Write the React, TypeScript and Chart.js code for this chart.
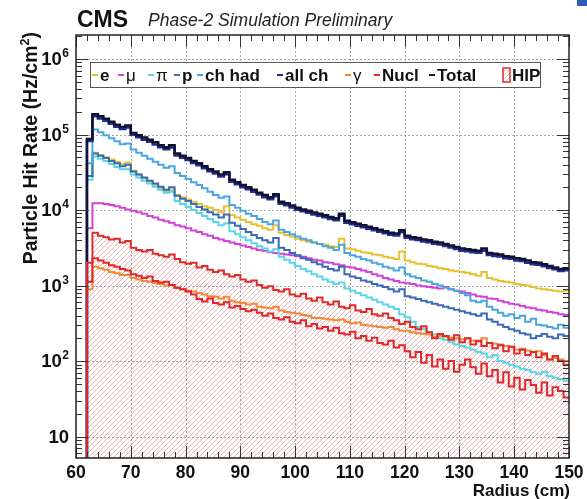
import React, { useEffect, useRef } from "react";
import { Chart, registerables } from "chart.js";

Chart.register(...registerables);

// Bin edges (cm): 1 cm bins from 62 to 150
const binEdges = [
  62, 63, 64, 65, 66, 67, 68, 69, 70, 71, 72, 73, 74, 75, 76, 77, 78, 79, 80, 81,
  82, 83, 84, 85, 86, 87, 88, 89, 90, 91, 92, 93, 94, 95, 96, 97, 98, 99, 100, 101,
  102, 103, 104, 105, 106, 107, 108, 109, 110, 111, 112, 113, 114, 115, 116, 117, 118, 119, 120, 121,
  122, 123, 124, 125, 126, 127, 128, 129, 130, 131, 132, 133, 134, 135, 136, 137, 138, 139, 140, 141,
  142, 143, 144, 145, 146, 147, 148, 149, 150,
];

// Rates (Hz/cm^2) per bin
const totalRate = [
  87000, 186000, 174000, 162000, 148000, 135000, 126000, 132000, 105000, 98000,
  91000, 85000, 79000, 72000, 68000, 72000, 56000, 52500, 49000, 44700,
  41700, 38000, 34700, 32400, 29500, 31600, 25100, 23400, 21400, 20000,
  18600, 17000, 15800, 14800, 16200, 12900, 12300, 11500, 10700, 10200,
  9800, 9300, 8900, 8500, 8100, 7800, 8900, 7200, 6900, 6600,
  6300, 6000, 5750, 5500, 5250, 5000, 4900, 5400, 4570, 4370,
  4270, 4070, 3980, 3800, 3720, 3550, 3390, 3240, 3090, 3020,
  2950, 2880, 3090, 2690, 2630, 2570, 2450, 2400, 2290, 2240,
  2140, 2040, 2000, 1910, 1820, 1740, 1660, 1700,
];
const allChRate = [
  82000, 175000, 163000, 152000, 139000, 127000, 118000, 124000, 99000, 92000,
  85500, 80000, 74000, 68000, 64000, 67500, 52600, 49300, 46000, 42000,
  39200, 35700, 32600, 30400, 27700, 29700, 23600, 22000, 20100, 18800,
  17500, 16000, 14800, 13900, 15200, 12100, 11600, 10800, 10100, 9600,
  9200, 8700, 8400, 8000, 7600, 7300, 8400, 6800, 6500, 6200,
  5900, 5650, 5400, 5170, 4930, 4700, 4600, 5080, 4300, 4100,
  4010, 3830, 3740, 3570, 3500, 3340, 3190, 3050, 2900, 2840,
  2770, 2710, 2900, 2530, 2470, 2420, 2300, 2260, 2150, 2110,
  2010, 1920, 1880, 1800, 1710, 1640, 1560, 1600,
];
const chHadRate = [
  41700, 117000, 107000, 97700, 89100, 81300, 74100, 75900, 63100, 57500,
  52500, 47900, 43700, 39800, 36300, 38000, 30900, 28200, 25700, 23400,
  21400, 19500, 17400, 15800, 14500, 15100, 11700, 10700, 9770, 8910,
  8320, 7590, 6920, 6460, 7240, 5500, 5130, 4790, 4470, 4170,
  3980, 3720, 3550, 3310, 3160, 2950, 3470, 2690, 2510, 2400,
  2240, 2140, 2000, 1910, 1780, 1700, 1580, 1740, 1410, 1320,
  1260, 1170, 1120, 1050, 1000, 933, 891, 851, 794, 741,
  631, 603, 631, 525, 479, 437, 398, 417, 372, 398,
  331, 363, 302, 295, 282, 269, 302, 275,
];
const electronRate = [
  28200, 57500, 53700, 50100, 46800, 43700, 40700, 42700, 33100, 29500,
  26300, 24000, 21400, 19500, 17800, 18600, 15800, 14800, 13800, 12900,
  12000, 11200, 10700, 10000, 9330, 11200, 8510, 7940, 7410, 6920,
  6460, 6170, 5750, 5500, 6310, 5010, 4680, 4470, 4170, 3980,
  3800, 3720, 3550, 3470, 3310, 3240, 4170, 3090, 3020, 2880,
  2750, 2690, 2570, 2510, 2400, 2340, 2240, 2820, 2140, 2040,
  1950, 1910, 1820, 1780, 1700, 1660, 1580, 1550, 1510, 1480,
  1410, 1350, 1510, 1260, 1200, 1150, 1120, 1100, 1050, 1020,
  1000, 955, 912, 891, 871, 851, 832, 851,
];
const muonRate = [
  5750, 12300, 12300, 12000, 11700, 11200, 10700, 10200, 9770, 9330,
  8910, 8320, 7940, 7410, 7080, 6760, 6310, 6030, 5750, 5370,
  5130, 4790, 4570, 4270, 4070, 3890, 3720, 3550, 3390, 3240,
  3090, 2950, 2880, 2750, 2690, 2630, 2570, 2510, 2450, 2400,
  2290, 2190, 2140, 2040, 2000, 1910, 1860, 1780, 1740, 1660,
  1580, 1510, 1410, 1350, 1260, 1200, 1150, 1100, 1070, 1050,
  1000, 977, 955, 933, 912, 955, 891, 851, 832, 794,
  759, 724, 708, 676, 661, 631, 603, 575, 562, 537,
  513, 501, 479, 468, 447, 437, 417, 407,
];
const protonRate = [
  28200, 56200, 52500, 49000, 44700, 41700, 38000, 39800, 32400, 29500,
  26900, 24500, 22400, 20400, 18600, 20000, 15500, 14100, 13200, 12000,
  11000, 10200, 9330, 8710, 7940, 8710, 6760, 6170, 5620, 5130,
  4680, 4270, 3980, 3720, 4270, 3160, 2950, 2690, 2510, 2290,
  2190, 2040, 1910, 1780, 1660, 1580, 1780, 1410, 1320, 1260,
  1170, 1120, 1050, 1000, 955, 891, 832, 891, 724, 692,
  661, 631, 603, 575, 550, 525, 501, 479, 457, 437,
  417, 398, 427, 355, 331, 302, 282, 263, 251, 234,
  224, 200, 214, 229, 209, 200, 224, 214,
];
const pionRate = [
  25100, 51300, 47900, 44700, 40700, 37200, 34700, 34700, 29500, 26900,
  24500, 22400, 20400, 18600, 17000, 17400, 13200, 12000, 11000, 10000,
  9120, 8320, 7590, 6920, 6310, 6610, 5250, 4790, 4370, 3980,
  3630, 3310, 3090, 2820, 3020, 2400, 2190, 2000, 1820, 1660,
  1550, 1410, 1320, 1200, 1120, 1050, 1100, 912, 851, 794,
  741, 692, 646, 603, 562, 525, 490, 417, 380, 331,
  282, 263, 240, 224, 200, 191, 178, 166, 158, 151,
  141, 132, 126, 112, 120, 100, 95, 89, 85, 79,
  76, 71, 68, 72, 63, 60, 58, 55,
];
const photonRate = [
  891, 1780, 1700, 1620, 1510, 1450, 1380, 1380, 1260, 1200,
  1150, 1120, 1070, 1050, 1000, 1020, 933, 891, 851, 832,
  794, 759, 724, 708, 676, 708, 631, 603, 589, 562,
  575, 525, 513, 501, 525, 468, 447, 437, 427, 407,
  398, 372, 372, 363, 355, 347, 355, 331, 316, 324,
  302, 295, 288, 282, 275, 282, 263, 251, 251, 240,
  234, 229, 224, 209, 214, 209, 204, 200, 195, 200,
  186, 182, 200, 174, 170, 166, 158, 155, 141, 145,
  138, 132, 135, 120, 105, 110, 105, 100,
];
const nuclRate = [
  1120, 2290, 2140, 2000, 1860, 1780, 1660, 1580, 1410, 1350,
  1260, 1320, 1150, 1100, 1120, 1020, 933, 891, 832, 759,
  661, 617, 676, 589, 562, 603, 513, 537, 490, 457,
  479, 437, 398, 427, 372, 355, 380, 331, 316, 347,
  288, 309, 269, 282, 251, 275, 234, 224, 245, 200,
  214, 186, 204, 174, 166, 186, 151, 162, 135, 112,
  132, 95, 120, 85, 105, 79, 100, 72, 89, 105,
  83, 68, 93, 63, 76, 52, 71, 46, 60, 42,
  56, 48, 38, 52, 35, 45, 40, 33,
];
const hipRate = [
  2000, 5010, 4570, 4370, 4070, 4170, 3720, 3890, 3160, 2950,
  2820, 2950, 2630, 2510, 2400, 2570, 2240, 2040, 1950, 2000,
  1740, 1820, 1620, 1510, 1580, 1410, 1320, 1380, 1200, 1120,
  1170, 1020, 933, 977, 871, 832, 891, 759, 724, 776,
  676, 631, 692, 603, 562, 617, 525, 501, 550, 468,
  447, 490, 417, 398, 427, 372, 347, 309, 331, 282,
  263, 288, 240, 200, 229, 214, 191, 219, 178, 200,
  166, 186, 158, 174, 148, 162, 135, 155, 126, 141,
  120, 132, 112, 126, 105, 117, 100, 89,
];

const xTickLabels = ["60", "70", "80", "90", "100", "110", "120", "130", "140", "150"];
const xTickValues = [60, 70, 80, 90, 100, 110, 120, 130, 140, 150];
const yTickValues = [10, 100, 1000, 10000, 100000, 1000000];
const yTickExponents = [1, 2, 3, 4, 5, 6];

const C = {
  e: "#e6c233",
  mu: "#d443d6",
  pi: "#5ad6e8",
  p: "#3b6ab6",
  chHad: "#4ba5df",
  allCh: "#1f2f96",
  gamma: "#f0893a",
  nucl: "#e2262b",
  total: "#10122e",
  hip: "#e02a2a",
  hatch: "rgba(222,110,110,0.5)",
};

const legendEntries = [
  { label: "e", color: C.e, greek: false, x: 92 },
  { label: "μ", color: C.mu, greek: true, x: 118 },
  { label: "π", color: C.pi, greek: true, x: 148 },
  { label: "p", color: C.p, greek: false, x: 174 },
  { label: "ch had", color: C.chHad, greek: false, x: 197 },
  { label: "all ch", color: C.allCh, greek: false, x: 277 },
  { label: "γ", color: C.gamma, greek: true, x: 345 },
  { label: "Nucl", color: C.nucl, greek: false, x: 374 },
  { label: "Total", color: C.total, greek: false, x: 429 },
];

const FONT = "'Liberation Sans', Arial, Helvetica, sans-serif";

function toHist(values: number[]) {
  const pts: { x: number; y: number }[] = [{ x: binEdges[0], y: 0.5 }];
  values.forEach((v, i) => pts.push({ x: binEdges[i], y: v }));
  pts.push({ x: binEdges[binEdges.length - 1], y: values[values.length - 1] });
  return pts;
}

function hatchRect(ctx: CanvasRenderingContext2D, left: number, top: number, right: number, bottom: number, step: number) {
  const h = bottom - top;
  ctx.beginPath();
  for (let sx = left - h; sx < right + step; sx += step) {
    ctx.moveTo(sx, bottom);
    ctx.lineTo(sx + h, top);
  }
  ctx.stroke();
}

const rootPlugin = {
  id: "rootStyle",
  beforeDraw(chart: any) {
    const { ctx, chartArea: a, scales } = chart;
    const x = scales.x;
    const y = scales.y;
    ctx.save();
    ctx.fillStyle = "#ffffff";
    ctx.fillRect(0, 0, chart.width, chart.height);
    // dotted grid
    ctx.strokeStyle = "#a8a8a8";
    ctx.lineWidth = 1;
    ctx.setLineDash([2, 2]);
    ctx.beginPath();
    xTickValues.forEach((t) => {
      if (t <= x.min || t >= x.max) return;
      const px = Math.round(x.getPixelForValue(t)) + 0.5;
      ctx.moveTo(px, a.top);
      ctx.lineTo(px, a.bottom);
    });
    yTickValues.forEach((t) => {
      const py = Math.round(y.getPixelForValue(t)) + 0.5;
      ctx.moveTo(a.left, py);
      ctx.lineTo(a.right, py);
    });
    ctx.stroke();
    ctx.restore();
  },
  beforeDatasetsDraw(chart: any) {
    // hatched fill under the HIP histogram
    const { ctx, chartArea: a, scales } = chart;
    const x = scales.x;
    const y = scales.y;
    ctx.save();
    ctx.beginPath();
    ctx.rect(a.left, a.top, a.right - a.left, a.bottom - a.top);
    ctx.clip();
    ctx.beginPath();
    ctx.moveTo(x.getPixelForValue(binEdges[0]), a.bottom);
    hipRate.forEach((v, i) => {
      const py = y.getPixelForValue(v);
      ctx.lineTo(x.getPixelForValue(binEdges[i]), py);
      ctx.lineTo(x.getPixelForValue(binEdges[i + 1]), py);
    });
    ctx.lineTo(x.getPixelForValue(binEdges[binEdges.length - 1]), a.bottom);
    ctx.closePath();
    ctx.clip();
    ctx.strokeStyle = C.hatch;
    ctx.lineWidth = 1;
    hatchRect(ctx, a.left, a.top, a.right, a.bottom, 5);
    ctx.restore();
  },
  afterDraw(chart: any) {
    const { ctx, chartArea: a, scales } = chart;
    const x = scales.x;
    const y = scales.y;
    ctx.save();
    ctx.setLineDash([]);
    // ticks
    ctx.strokeStyle = "#333";
    ctx.lineWidth = 1;
    ctx.beginPath();
    for (let v = 60; v <= 150; v += 2) {
      const major = v % 10 === 0;
      const len = major ? 12 : 6;
      const px = Math.round(x.getPixelForValue(v)) + 0.5;
      ctx.moveTo(px, a.bottom);
      ctx.lineTo(px, a.bottom - len);
      ctx.moveTo(px, a.top);
      ctx.lineTo(px, a.top + len);
    }
    const decades = [1, 10, 100, 1000, 10000, 100000, 1000000];
    decades.forEach((d) => {
      for (let m = 1; m <= 9; m++) {
        const v = m * d;
        if (v < y.min || v > y.max) continue;
        const len = m === 1 ? 12 : 6;
        const py = Math.round(y.getPixelForValue(v)) + 0.5;
        ctx.moveTo(a.left, py);
        ctx.lineTo(a.left + len, py);
        ctx.moveTo(a.right, py);
        ctx.lineTo(a.right - len, py);
      }
    });
    ctx.stroke();
    // frame
    ctx.strokeStyle = "#222";
    ctx.lineWidth = 1.5;
    ctx.strokeRect(a.left, a.top, a.right - a.left, a.bottom - a.top);

    // x tick labels
    ctx.fillStyle = "#111";
    ctx.font = `bold 17.5px ${FONT}`;
    ctx.textAlign = "center";
    ctx.textBaseline = "alphabetic";
    xTickValues.forEach((t, i) => {
      ctx.fillText(xTickLabels[i], x.getPixelForValue(t), 478);
    });
    // y tick labels 10^n
    yTickValues.forEach((t, i) => {
      const py = y.getPixelForValue(t);
      const exp = yTickExponents[i];
      const right = 69;
      ctx.textBaseline = "middle";
      if (exp === 1) {
        ctx.font = `bold 18.5px ${FONT}`;
        ctx.textAlign = "right";
        ctx.fillText("10", right, py + 1);
      } else {
        ctx.font = `bold 12px ${FONT}`;
        const sw = ctx.measureText(String(exp)).width;
        ctx.textAlign = "left";
        ctx.fillText(String(exp), right - sw, py - 5);
        ctx.font = `bold 18.5px ${FONT}`;
        ctx.textAlign = "right";
        ctx.fillText("10", right - sw - 0.5, py + 1);
      }
    });
    // axis titles
    ctx.textBaseline = "alphabetic";
    ctx.font = `bold 17px ${FONT}`;
    ctx.textAlign = "right";
    ctx.fillText("Radius (cm)", 570, 496);

    ctx.save();
    ctx.translate(37, 32);
    ctx.rotate(-Math.PI / 2);
    ctx.textAlign = "right";
    ctx.font = `bold 12.5px ${FONT}`;
    const supW = ctx.measureText("2").width;
    ctx.font = `bold 19.5px ${FONT}`;
    const closeW = ctx.measureText(")").width;
    ctx.fillText(")", 0, 0);
    ctx.font = `bold 12.5px ${FONT}`;
    ctx.fillText("2", -closeW, -8);
    ctx.font = `bold 19.5px ${FONT}`;
    ctx.fillText("Particle Hit Rate (Hz/cm", -closeW - supW, 0);
    ctx.restore();

    // header
    ctx.textAlign = "left";
    ctx.font = `bold 23px ${FONT}`;
    ctx.fillText("CMS", 77, 27);
    ctx.font = `italic 17.5px ${FONT}`;
    ctx.fillStyle = "#222";
    ctx.fillText("Phase-2 Simulation Preliminary", 148, 26);

    // legend box
    ctx.fillStyle = "#fff";
    ctx.fillRect(90, 62, 450, 25);
    ctx.strokeStyle = "#555";
    ctx.lineWidth = 1;
    ctx.strokeRect(90.5, 62.5, 450, 25);
    const ly = 75;
    legendEntries.forEach((it) => {
      ctx.strokeStyle = it.color;
      ctx.lineWidth = 2;
      ctx.beginPath();
      ctx.moveTo(it.x, ly);
      ctx.lineTo(it.x + 6, ly);
      ctx.stroke();
      ctx.fillStyle = "#111";
      ctx.font = it.greek ? `17px ${FONT}` : `bold 17px ${FONT}`;
      ctx.textBaseline = "middle";
      ctx.textAlign = "left";
      ctx.fillText(it.label, it.x + 8, ly + 1);
    });
    // HIP entry
    ctx.save();
    ctx.beginPath();
    ctx.rect(503, 68, 7, 14);
    ctx.clip();
    ctx.strokeStyle = C.hatch;
    ctx.lineWidth = 1;
    hatchRect(ctx, 503, 68, 510, 82, 4);
    ctx.restore();
    ctx.strokeStyle = C.hip;
    ctx.lineWidth = 1.5;
    ctx.strokeRect(503, 68, 7, 14);
    ctx.fillStyle = "#111";
    ctx.font = `bold 17px ${FONT}`;
    ctx.textBaseline = "middle";
    ctx.fillText("HIP", 512, ly + 1);

    // small blue mark in top-right corner
    ctx.fillStyle = "#2c5fb4";
    ctx.fillRect(577, 0, 10, 6);
    ctx.restore();
  },
};

export default function App() {
  const ref = useRef<HTMLCanvasElement>(null);
  useEffect(() => {
    const canvas = ref.current!;
    const line = (label: string, values: number[], color: string, width = 2) => ({
      label,
      data: toHist(values),
      borderColor: color,
      backgroundColor: color,
      borderWidth: width,
      stepped: "before" as const,
      pointRadius: 0,
      fill: false,
    });
    const chart = new Chart(canvas, {
      type: "line",
      data: {
        datasets: [
          line("HIP", hipRate, C.hip),
          line("Total", totalRate, C.total, 2.5),
          line("Nucl", nuclRate, C.nucl),
          line("γ", photonRate, C.gamma),
          line("all ch", allChRate, C.allCh, 2.5),
          line("ch had", chHadRate, C.chHad),
          line("p", protonRate, C.p),
          line("π", pionRate, C.pi),
          line("μ", muonRate, C.mu),
          line("e", electronRate, C.e),
        ] as any,
      },
      options: {
        responsive: false,
        animation: false,
        devicePixelRatio: 1,
        layout: { padding: { left: 76, right: 18, top: 35, bottom: 41 } },
        scales: {
          x: { type: "linear", min: 60, max: 150, display: false },
          y: { type: "logarithmic", min: 5.2, max: 2080000, display: false },
        },
        plugins: {
          legend: { display: false },
          tooltip: { enabled: false },
        } as any,
        elements: { line: { tension: 0 }, point: { radius: 0 } },
      },
      plugins: [rootPlugin],
    });
    return () => chart.destroy();
  }, []);
  return (
    <div style={{ position: "fixed", left: 0, top: 0, width: 587, height: 499, background: "#fff" }}>
      <canvas ref={ref} width={587} height={499} style={{ display: "block" }} />
    </div>
  );
}
